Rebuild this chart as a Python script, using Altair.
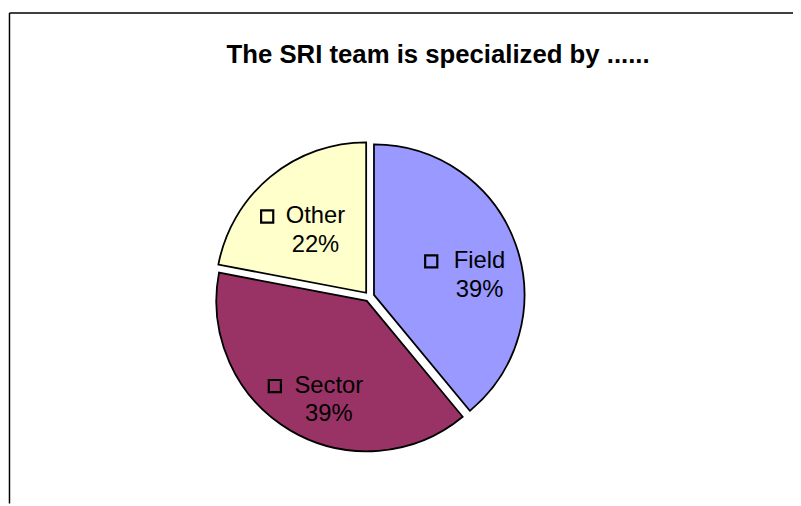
import math
import altair as alt
import pandas as pd

# ---- data ----
categories = ["Field", "Sector", "Other"]
percents = [39, 39, 22]
colors = ["#9999FF", "#993366", "#FFFFCC"]
title_text = "The SRI team is specialized by ......"

# ---- layout constants ----
CX, CY = 365, 289      # pie centre (pixels in the plot area)
RADIUS = 152
EXPLODE = 5
LABEL_R = 100
W, H = 793, 498
KEY_GAP = 25           # square width + gap before the category name
CHAR_W = 11.5          # approximate character width of the label font

df = pd.DataFrame({"cat": categories, "pct": percents, "idx": list(range(len(categories)))})
total = sum(percents)

base = (
    alt.Chart(df)
    .transform_window(c1="sum(pct)", sort=[alt.SortField("idx")], frame=[None, 0])
    .transform_calculate(
        c0="datum.c1 - datum.pct",
        mid=f"(datum.c1 - datum.pct / 2) / {total} * 2 * PI",
    )
    .transform_calculate(
        px=f"{CX} + {EXPLODE} * sin(datum.mid)",
        py=f"{CY} - {EXPLODE} * cos(datum.mid)",
    )
    .transform_calculate(
        lx=f"datum.px + {LABEL_R} * sin(datum.mid)",
        ly=f"datum.py - {LABEL_R} * cos(datum.mid)",
        label="datum.cat + '\\n' + datum.pct + '%'",
    )
    .transform_calculate(
        tx=f"datum.lx + {KEY_GAP} / 2",
        sqx=f"datum.lx - ({KEY_GAP} + length(datum.cat) * {CHAR_W}) / 2 + 5",
    )
)

color = alt.Color("cat:N", scale=alt.Scale(domain=categories, range=colors), legend=None)

arcs = base.mark_arc(stroke="black", strokeWidth=1.8, outerRadius=RADIUS).encode(
    theta=alt.Theta("c0:Q", scale=alt.Scale(domain=[0, total], range=[0, 2 * math.pi]), stack=None),
    theta2="c1:Q",
    x=alt.X("px:Q", scale=None, axis=None),
    y=alt.Y("py:Q", scale=None, axis=None),
    color=color,
)

labels = base.mark_text(
    font="Liberation Sans", fontSize=24, lineHeight=28.5, lineBreak="\n",
    align="center", baseline="middle", color="black",
).encode(
    x=alt.X("tx:Q", scale=None, axis=None),
    y=alt.Y("ly:Q", scale=None, axis=None),
    text="label:N",
)

squares = base.mark_point(
    shape="square", size=150, filled=False, stroke="black", strokeWidth=2.2, opacity=1
).encode(
    x=alt.X("sqx:Q", scale=None, axis=None),
    y=alt.Y("ly:Q", scale=None, axis=None),
)

title = alt.Chart(pd.DataFrame({"t": [title_text]})).mark_text(
    font="Liberation Sans", fontSize=26, fontWeight="bold", align="center", baseline="middle", color="black"
).encode(x=alt.value(434.5), y=alt.value(45.5), text="t:N")

frame_top = alt.Chart(pd.DataFrame({"k": [0]})).mark_rule(color="black", strokeWidth=1.5).encode(
    x=alt.value(1.5), x2=alt.value(W), y=alt.value(2.5)
)
frame_left = alt.Chart(pd.DataFrame({"k": [0]})).mark_rule(color="black", strokeWidth=1.5).encode(
    x=alt.value(1.5), y=alt.value(2.5), y2=alt.value(H)
)

chart = (
    alt.layer(frame_top, frame_left, title, arcs, labels, squares)
    .properties(width=W, height=H, autosize=alt.AutoSizeParams(type="none"), padding=0, background="white")
    .configure_view(stroke=None)
)

chart.save("out.html", embed_options={"renderer": "svg", "actions": False})
